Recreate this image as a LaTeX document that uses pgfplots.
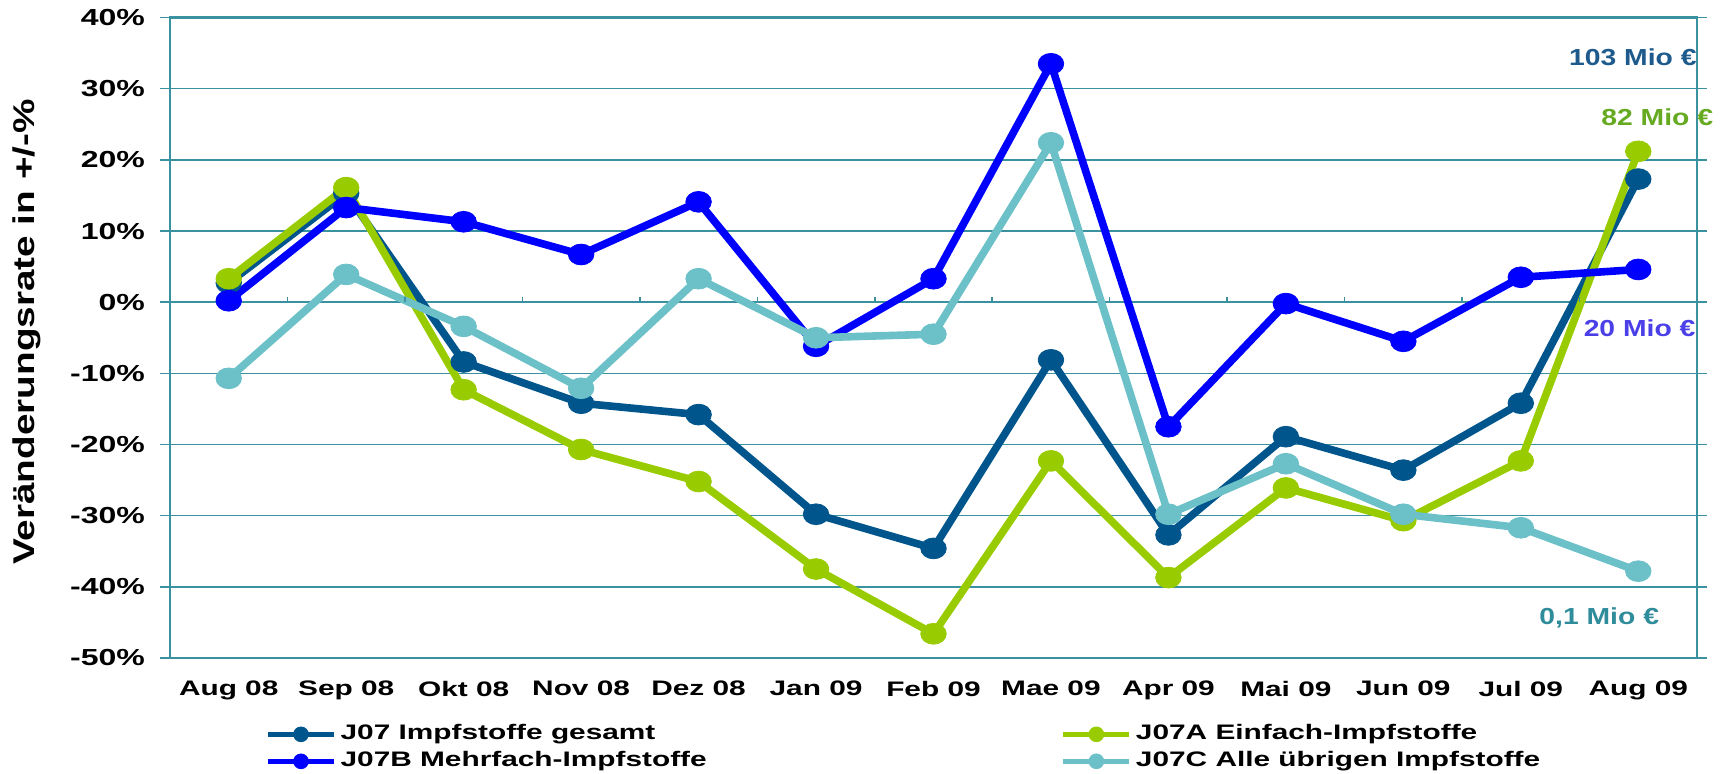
\documentclass[border=0pt]{standalone}
\usepackage{fontspec}
\usepackage{pgfplots}
\pgfplotsset{compat=1.18}
\setmainfont{Liberation Sans}
\newfontfamily\yfont{Liberation Sans}[FakeStretch=1.38]
\newfontfamily\xfont{Liberation Sans}[FakeStretch=1.42]
\newfontfamily\labfont{Liberation Sans}[FakeStretch=1.29]
\newfontfamily\notefont{Liberation Sans}[FakeStretch=1.22]

\definecolor{cges}{RGB}{0,85,140}
\definecolor{ceinf}{RGB}{153,204,0}
\definecolor{cmehr}{RGB}{0,0,255}
\definecolor{crest}{RGB}{108,192,200}
\definecolor{cgrid}{RGB}{58,145,159}
\definecolor{nges}{RGB}{30,91,140}
\definecolor{neinf}{RGB}{102,170,34}
\definecolor{nmehr}{RGB}{75,63,232}
\definecolor{nrest}{RGB}{46,140,155}

% monthly change rates in percent, Aug 08 .. Aug 09
\pgfplotstableread{
x  ges    einf   mehr   rest
0   2.7    3.3    0.2  -10.7
1  15.3   16.1   13.3    3.9
2  -8.4  -12.3   11.3   -3.4
3 -14.2  -20.7    6.7  -12.1
4 -15.8  -25.2   14.1    3.3
5 -29.8  -37.5   -6.2   -5.0
6 -34.6  -46.6    3.3   -4.5
7  -8.1  -22.3   33.5   22.4
8 -32.7  -38.7  -17.5  -29.8
9 -18.9  -26.1   -0.2  -22.7
10 -23.6 -30.7   -5.5  -29.8
11 -14.2 -22.3    3.5  -31.7
12 17.3   21.2    4.6  -37.8
}\rates

\begin{document}
\begin{tikzpicture}
\begin{axis}[
  scale only axis,
  width=763.5pt, height=320.25pt,
  xmin=-0.5, xmax=12.5,
  ymin=-50, ymax=40,
  clip=false,
  axis line style={cgrid, line width=1.1pt},
  xtick={0,...,12},
  xticklabels={Aug 08, Sep 08, Okt 08, Nov 08, Dez 08, Jan 09, Feb 09, Mae 09, Apr 09, Mai 09, Jun 09, Jul 09, Aug 09},
  x tick style={draw=none},
  xticklabel style={font=\xfont\bfseries\fontsize{10.5}{12}\selectfont, yshift=-3pt},
  ytick={-50,-40,...,40},
  yticklabels={-50\%,-40\%,-30\%,-20\%,-10\%,0\%,10\%,20\%,30\%,40\%},
  yticklabel style={font=\yfont\bfseries\fontsize{11.6}{13}\selectfont, xshift=-4pt},
  tick align=outside,
  major tick length=5pt,
  y tick style={cgrid, line width=0.8pt},
  ymajorgrids,
  grid style={cgrid, line width=0.8pt},
  ylabel={Veränderungsrate in +/-\%},
  ylabel style={at={(axis description cs:-0.0936,0.509)}, anchor=center,
    font=\labfont\bfseries\fontsize{15}{17}\selectfont},
  every axis plot/.append style={line width=3.8pt},
  legend columns=2,
  legend style={at={(rel axis cs:0,0)}, anchor=north west,
    xshift=47.5pt, yshift=-32.7pt, draw=none, fill=none, inner sep=0pt,
    row sep=3pt,
    nodes={inner sep=0pt, text height=8pt, text depth=2.5pt},
    font=\xfont\bfseries\fontsize{10.5}{12}\selectfont},
  legend cell align=left,
  /tikz/every even column/.append style={column sep=177pt},
  /tikz/every odd column/.append style={column sep=2pt},
  legend image code/.code={
    \draw[line width=2.6pt, mark size=3.7pt, mark options={xscale=1,line width=0.4pt},
      mark repeat=2, mark phase=2]
      plot coordinates {(0pt,0pt) (16.5pt,0pt) (33pt,0pt)};},
]
\addplot[cges, mark=*, mark size=5.2pt, mark options={xscale=1.23, line width=0.4pt}]
  table[x=x, y=ges] {\rates};
\addlegendentry{J07 Impfstoffe gesamt}
\addplot[ceinf, mark=*, mark size=5.2pt, mark options={xscale=1.23, line width=0.4pt}]
  table[x=x, y=einf] {\rates};
\addlegendentry{J07A Einfach-Impfstoffe}
\addplot[cmehr, mark=*, mark size=5.2pt, mark options={xscale=1.23, line width=0.4pt}]
  table[x=x, y=mehr] {\rates};
\addlegendentry{J07B Mehrfach-Impfstoffe}
\addplot[crest, mark=*, mark size=5.2pt, mark options={xscale=1.23, line width=0.4pt}]
  table[x=x, y=rest] {\rates};
\addlegendentry{J07C Alle übrigen Impfstoffe}

% small category ticks on the zero line
\pgfplotsinvokeforeach{0.5,1.5,2.5,3.5,4.5,5.5,6.5,7.5,8.5,9.5,10.5,11.5}{
  \draw[cgrid, line width=0.8pt] (axis cs:#1,0) -- ([yshift=2.5pt]axis cs:#1,0);
}

\node[anchor=east, text=nges, font=\notefont\bfseries\fontsize{11.6}{13}\selectfont, inner sep=0pt]
  at (axis cs:12.5,34.4) {103 Mio €};
\node[anchor=east, text=neinf, font=\notefont\bfseries\fontsize{11.6}{13}\selectfont, inner sep=0pt]
  at (axis cs:12.64,26.0) {82 Mio €};
\node[anchor=east, text=nmehr, font=\notefont\bfseries\fontsize{11.6}{13}\selectfont, inner sep=0pt]
  at (axis cs:12.49,-3.7) {20 Mio €};
\node[anchor=east, text=nrest, font=\notefont\bfseries\fontsize{11.6}{13}\selectfont, inner sep=0pt]
  at (axis cs:12.18,-44.4) {0,1 Mio €};
\end{axis}
\pgfresetboundingbox
\useasboundingbox (-85pt,-57.5pt) rectangle (775pt,329pt);
\end{tikzpicture}
\end{document}
